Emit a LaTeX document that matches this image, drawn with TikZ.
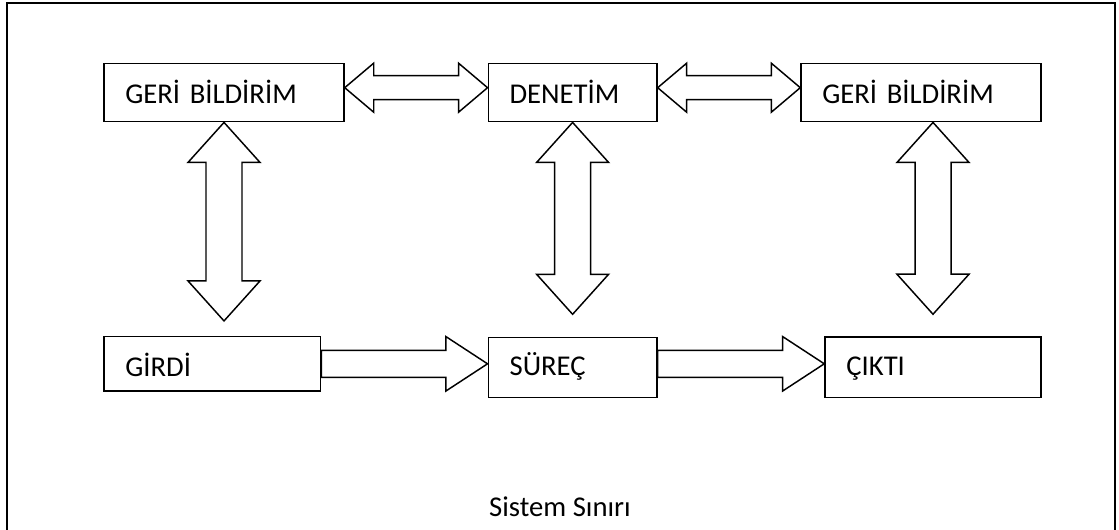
\documentclass[tikz,border=0pt]{standalone}
\usepackage{fontspec}
\setmainfont{Carlito}
\usetikzlibrary{calc}

\tikzset{
  txt/.style={font=\fontsize{21.5}{26}\selectfont},
  box/.style={txt, draw, line width=1.1pt, rectangle, inner xsep=16pt, inner ysep=0pt,
    align=left, text depth=0pt, text height=15.9pt},
  blockarrow/.style={draw, line width=1.1pt},
}

% block arrow with two heads, tips at #1 and #2
% #3 head length, #4 half head width, #5 half shaft width
\newcommand{\dblarrow}[5]{%
  \draw[blockarrow] (#1)
    -- ($(#1)!#3!(#2)!#4!90:(#2)$)
    -- ($(#1)!#3!(#2)!#5!90:(#2)$)
    -- ($(#2)!#3!(#1)!#5!-90:(#1)$)
    -- ($(#2)!#3!(#1)!#4!-90:(#1)$)
    -- (#2)
    -- ($(#2)!#3!(#1)!#4!90:(#1)$)
    -- ($(#2)!#3!(#1)!#5!90:(#1)$)
    -- ($(#1)!#3!(#2)!#5!-90:(#2)$)
    -- ($(#1)!#3!(#2)!#4!-90:(#2)$)
    -- cycle;}
% block arrow with one head, tail at #1, tip at #2
\newcommand{\sglarrow}[5]{%
  \draw[blockarrow] ($(#1)!#5!90:(#2)$)
    -- ($(#2)!#3!(#1)!#5!-90:(#1)$)
    -- ($(#2)!#3!(#1)!#4!-90:(#1)$)
    -- (#2)
    -- ($(#2)!#3!(#1)!#4!90:(#1)$)
    -- ($(#2)!#3!(#1)!#5!90:(#1)$)
    -- ($(#1)!#5!-90:(#2)$)
    -- cycle;}

\begin{document}
\begin{tikzpicture}[x=0.75pt, y=-0.75pt]
	\useasboundingbox (0,0) rectangle (1119,530);

	% System boundary
	\draw[line width=1.5pt] (6.5,3) rectangle (1115,570);
	\node[txt, anchor=base] (sinir) at (560,516.7) {Sistem Sınırı};

	% Upper row
	\node[box, text width=148pt, minimum height=43.5pt] (geri1) at (224,92.7) {GERİ BİLDİRİM};
	\node[box, text width=94.5pt, minimum height=43.5pt] (denetim) at (572.6,92.7) {DENETİM};
	\node[box, text width=148pt, minimum height=43.5pt] (geri2) at (921,92.7) {GERİ BİLDİRİM};

	% Lower row
	\node[box, text width=130.5pt, minimum height=40.7pt, text height=18.3pt] (girdi) at (212.3,363.8) {GİRDİ};
	\node[box, text width=94.5pt, minimum height=45pt, text height=11pt] (surec) at (572.6,367.7) {SÜREÇ};
	\node[box, text width=130pt, minimum height=45.5pt, text height=13pt] (cikti) at (933,367.3) {ÇIKTI};

	% Arrow ends
	\coordinate (h1a) at ([yshift=3.75pt]geri1.east);
	\coordinate (h1b) at ([yshift=3.75pt]denetim.west);
	\coordinate (h2a) at ([yshift=3.75pt]denetim.east);
	\coordinate (h2b) at ([yshift=3.75pt]geri2.west);
	\coordinate (v1b) at ([yshift=11.25pt]girdi.north -| geri1.south);
	\coordinate (v2b) at ([yshift=17pt]surec.north);
	\coordinate (v3a) at (geri2.south -| cikti.north);
	\coordinate (v3b) at ([yshift=16.5pt]cikti.north);
	\coordinate (s1b) at (girdi.east -| surec.west);
	\coordinate (s2a) at (surec.east |- girdi.east);
	\coordinate (s2b) at (cikti.west |- girdi.east);

	% Arrows
	\dblarrow{h1a}{h1b}{21.75pt}{18.4pt}{9pt}
	\dblarrow{h2a}{h2b}{21.75pt}{18.4pt}{9pt}
	\dblarrow{geri1.south}{v1b}{30pt}{27pt}{13.5pt}
	\dblarrow{denetim.south}{v2b}{30pt}{27pt}{13.5pt}
	\dblarrow{v3a}{v3b}{30pt}{27pt}{13.5pt}
	\sglarrow{girdi.east}{s1b}{31.2pt}{20.4pt}{10.1pt}
	\sglarrow{s2a}{s2b}{31.2pt}{20.4pt}{10.1pt}

\end{tikzpicture}
\end{document}
